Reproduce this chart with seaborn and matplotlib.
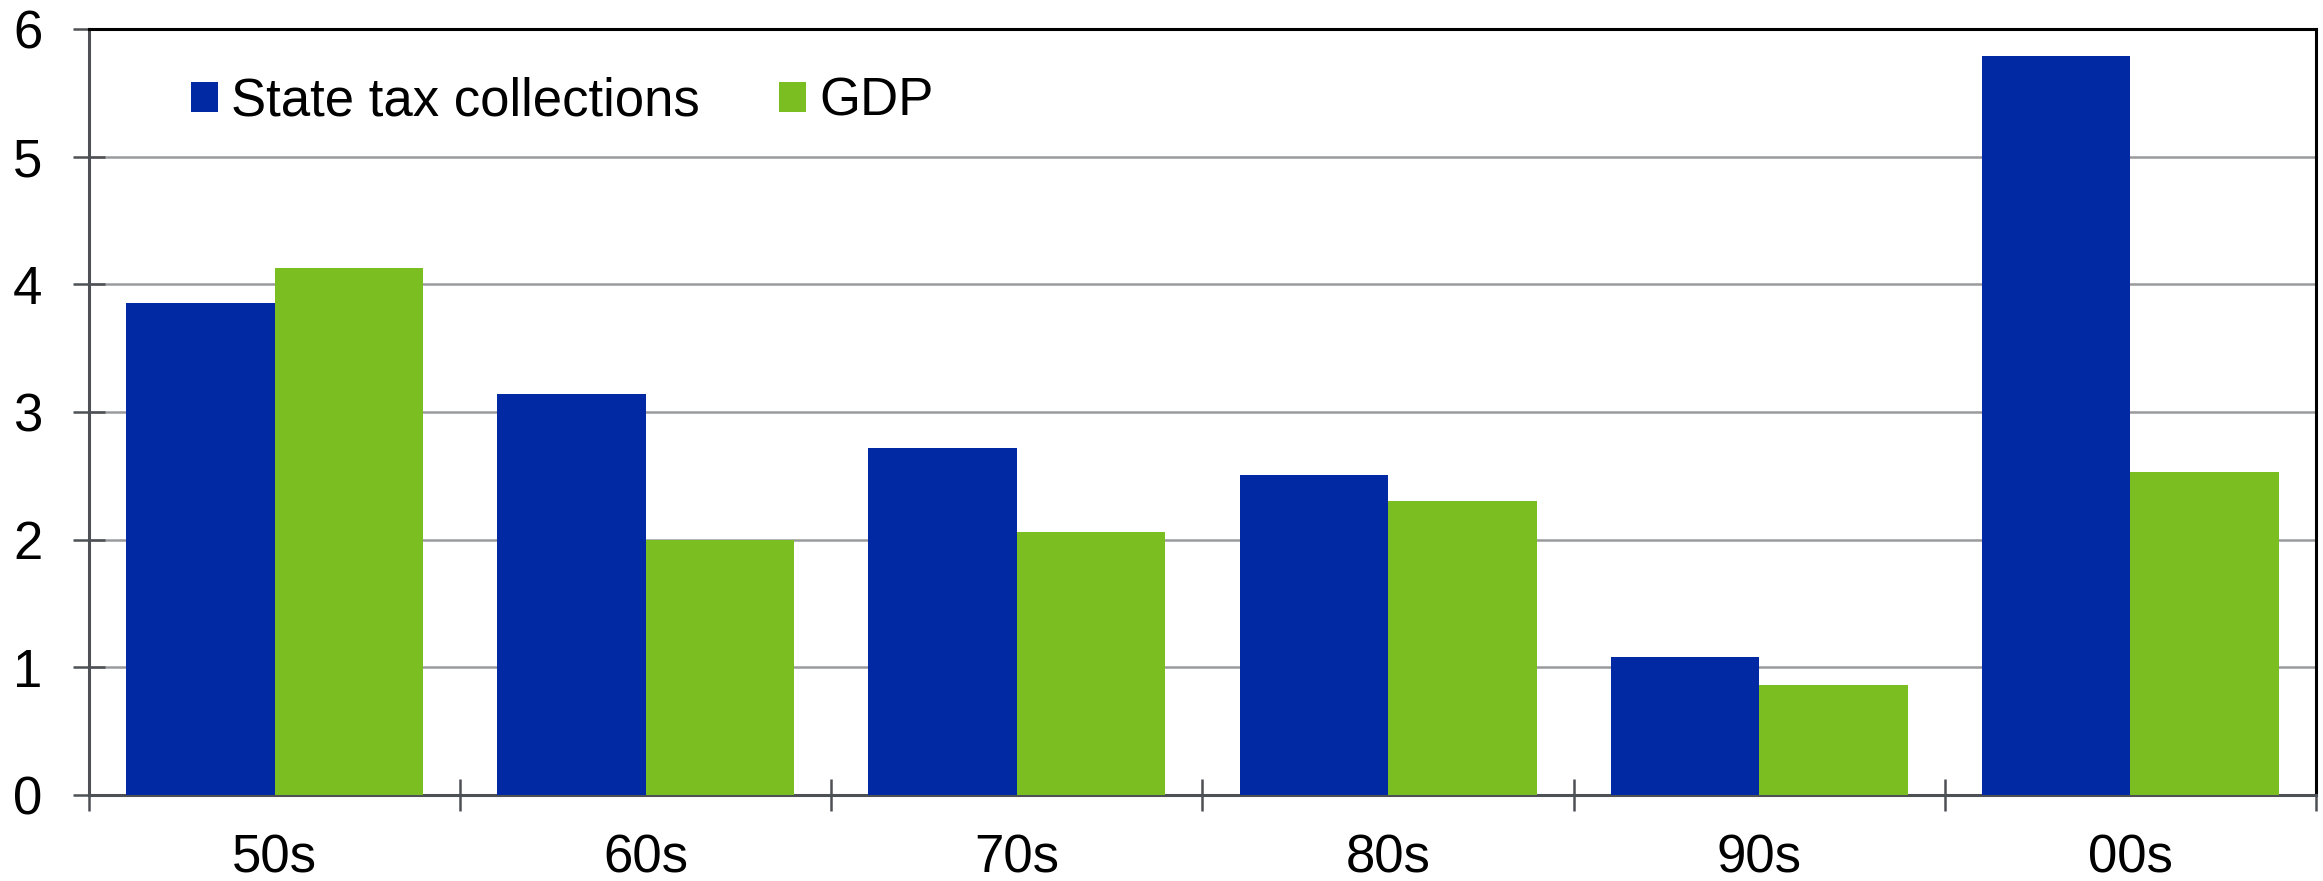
import matplotlib
matplotlib.use("Agg")
import matplotlib.pyplot as plt
import seaborn as sns
import pandas as pd
import numpy as np

decades = ["50s", "60s", "70s", "80s", "90s", "00s"]
state_tax = [3.85, 3.14, 2.72, 2.51, 1.08, 5.79]
gdp = [4.13, 2.00, 2.06, 2.30, 0.86, 2.53]
series_names = ["State tax collections", "GDP"]
colors = ["#0029A3", "#7BBE21"]
yticks = [0, 1, 2, 3, 4, 5, 6]

df = pd.DataFrame({
    "decade": decades * 2,
    "value": state_tax + gdp,
    "series": [series_names[0]] * len(decades) + [series_names[1]] * len(decades),
})

sns.set_style("white")
plt.rcParams["font.family"] = ["Liberation Sans", "DejaVu Sans"]
plt.rcParams["text.color"] = "black"

fig = plt.figure(figsize=(23.23, 8.81), dpi=100)
ax = fig.add_axes([89 / 2323, 86 / 881, (2316 - 89) / 2323, (795 - 29) / 881])

sns.barplot(data=df, x="decade", y="value", hue="series", order=decades,
            hue_order=series_names, palette=colors, saturation=1,
            width=0.8, gap=0, ax=ax, edgecolor="none", linewidth=0, zorder=3)

ax.set_xlim(-0.5, len(decades) - 0.5)
ax.set_ylim(0, 6)
ax.set_yticks(yticks)
ax.set_yticklabels([str(t) for t in yticks])
ax.set_xlabel("")
ax.set_ylabel("")

ax.yaxis.grid(True, color="#999A9C", linewidth=1.8, zorder=0)
ax.set_axisbelow(True)

# category boundary ticks
ax.set_xticks(np.arange(-0.5, len(decades), 1.0), minor=True)
ax.tick_params(axis="x", which="minor", direction="inout", length=23,
               width=1.8, color="#4D5055", bottom=True)
ax.tick_params(axis="x", which="major", length=0, pad=28, labelsize=38,
               labelcolor="black", bottom=True)
ax.tick_params(axis="y", which="major", direction="inout", length=23,
               width=1.8, color="#4D5055", pad=22, labelsize=38,
               labelcolor="black", left=True)

for side in ["left", "bottom"]:
    ax.spines[side].set_color("#4D5055")
    ax.spines[side].set_linewidth(2.2)
for side in ["top", "right"]:
    ax.spines[side].set_color("black")
    ax.spines[side].set_linewidth(2.2)
    ax.spines[side].set_visible(True)

leg = ax.legend(loc="center left", bbox_to_anchor=(0.0458, 0.905),
                frameon=False, ncol=2, fontsize=38, handlelength=0.51,
                handleheight=0.51, handletextpad=0.25, columnspacing=1.5,
                borderpad=0, borderaxespad=0, labelcolor="black")

fig.savefig("out.png", dpi=100)
